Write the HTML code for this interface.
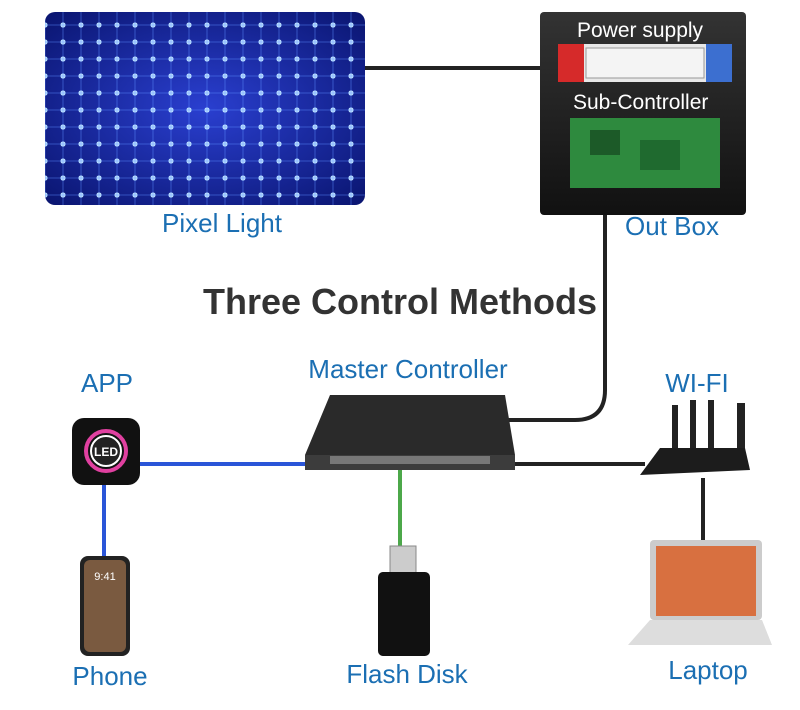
<!DOCTYPE html>
<html><head><meta charset="utf-8"><style>
body{margin:0;width:800px;height:710px;background:#fff;position:relative;overflow:hidden;font-family:"Liberation Sans",sans-serif}
.t{position:absolute;color:#1b6fb3;font-size:26px;transform:translateX(-50%);white-space:nowrap}
.abs{position:absolute}
</style></head><body>
<svg width="800" height="710" style="position:absolute;left:0;top:0">
<defs>
<radialGradient id="pl" cx="50%" cy="50%" r="70%"><stop offset="0" stop-color="#2a3fd0"/><stop offset="1" stop-color="#0a1570"/></radialGradient>
<pattern id="dots" width="18" height="17" patternUnits="userSpaceOnUse"><circle cx="9" cy="8" r="2.6" fill="#bfe4ff"/><path d="M9 0V17M0 8H18" stroke="#5a8cff" stroke-width="0.8" opacity="0.6"/></pattern>
<linearGradient id="bx" x1="0" y1="0" x2="0" y2="1"><stop offset="0" stop-color="#333"/><stop offset="1" stop-color="#111"/></linearGradient>
</defs>
<line x1="360" y1="68" x2="545" y2="68" stroke="#222" stroke-width="4"/>
<path d="M605 210 V390 Q605 420 575 420 H490" fill="none" stroke="#222" stroke-width="4"/>
<line x1="140" y1="464" x2="362" y2="464" stroke="#2a55d8" stroke-width="4"/>
<line x1="104" y1="484" x2="104" y2="560" stroke="#2a55d8" stroke-width="4"/>
<line x1="400" y1="462" x2="400" y2="548" stroke="#4ca84a" stroke-width="4"/>
<line x1="488" y1="464" x2="645" y2="464" stroke="#222" stroke-width="4"/>
<line x1="703" y1="478" x2="703" y2="542" stroke="#222" stroke-width="4"/>
<rect x="45" y="12" width="320" height="193" rx="10" fill="url(#pl)"/>
<rect x="45" y="12" width="320" height="193" rx="10" fill="url(#dots)"/>
<rect x="540" y="12" width="206" height="203" rx="4" fill="url(#bx)"/>
<rect x="560" y="44" width="170" height="38" fill="#e8e8e8"/>
<rect x="558" y="44" width="26" height="38" fill="#d62a2a"/>
<rect x="706" y="44" width="26" height="38" fill="#3c6fd0"/>
<rect x="586" y="48" width="118" height="30" fill="#f4f4f4" stroke="#999"/>
<rect x="570" y="118" width="150" height="70" fill="#2e8a3e"/>
<rect x="590" y="130" width="30" height="25" fill="#1c5a28"/><rect x="640" y="140" width="40" height="30" fill="#1f6a2f"/>
<polygon points="330,395 505,395 515,455 305,455" fill="#2a2a2a"/>
<polygon points="305,455 515,455 515,470 305,470" fill="#3c3c3c"/>
<rect x="330" y="456" width="160" height="8" fill="#777"/>
<rect x="72" y="418" width="68" height="67" rx="12" fill="#111"/>
<circle cx="106" cy="451" r="20" fill="none" stroke="#e040a0" stroke-width="4"/>
<circle cx="106" cy="451" r="15" fill="#222" stroke="#fff" stroke-width="2"/>
<text x="106" y="456" fill="#fff" font-size="12" font-weight="bold" text-anchor="middle" font-family="Liberation Sans">LED</text>
<rect x="80" y="556" width="50" height="100" rx="8" fill="#222"/>
<rect x="84" y="560" width="42" height="92" rx="6" fill="#7a5a40"/>
<text x="105" y="580" fill="#fff" font-size="11" text-anchor="middle" font-family="Liberation Sans">9:41</text>
<rect x="390" y="546" width="26" height="28" fill="#ccc" stroke="#888"/>
<rect x="378" y="572" width="52" height="84" rx="5" fill="#111"/>
<rect x="672" y="405" width="6" height="45" fill="#222"/><rect x="690" y="400" width="6" height="50" fill="#222"/>
<rect x="708" y="400" width="6" height="50" fill="#222"/><rect x="737" y="403" width="8" height="50" fill="#222"/>
<polygon points="660,448 745,448 750,470 640,475" fill="#1c1c1c"/>
<rect x="650" y="540" width="112" height="80" rx="4" fill="#ccc"/>
<rect x="656" y="546" width="100" height="70" fill="#d87040"/>
<polygon points="650,620 762,620 772,645 628,645" fill="#ddd"/>
</svg>
<div class="abs" style="left:577px;top:19px;color:#fff;font-size:21px">Power supply</div>
<div class="abs" style="left:573px;top:91px;color:#fff;font-size:21px">Sub-Controller</div>
<div class="t" style="left:222px;top:208px">Pixel Light</div>
<div class="t" style="left:672px;top:211px">Out Box</div>
<div class="abs" style="left:400px;top:281px;transform:translateX(-50%);font-size:36px;font-weight:bold;color:#333;white-space:nowrap">Three Control Methods</div>
<div class="t" style="left:408px;top:354px">Master Controller</div>
<div class="t" style="left:107px;top:368px">APP</div>
<div class="t" style="left:697px;top:368px">WI-FI</div>
<div class="t" style="left:110px;top:661px">Phone</div>
<div class="t" style="left:407px;top:659px">Flash Disk</div>
<div class="t" style="left:708px;top:655px">Laptop</div>
</body></html>
